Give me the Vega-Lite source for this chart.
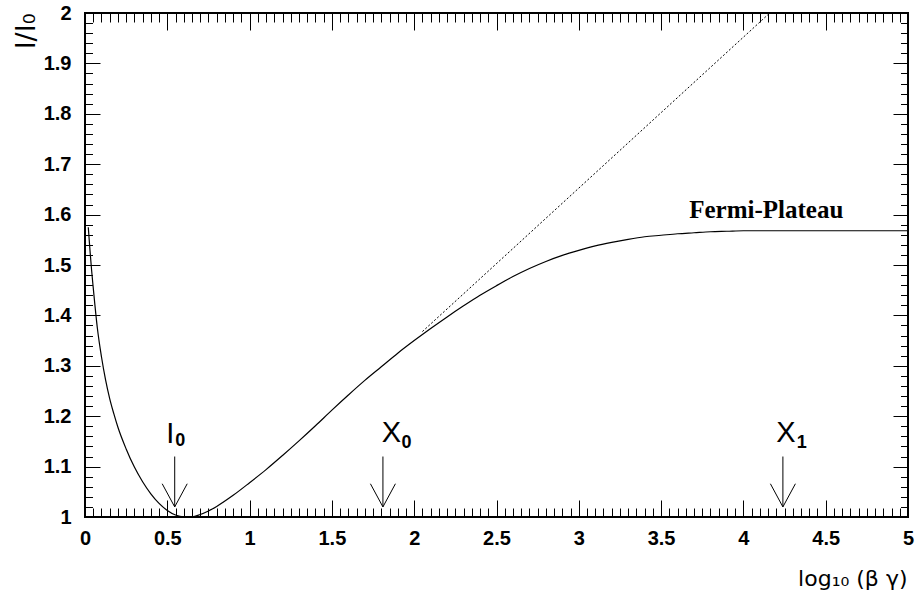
{
  "$schema": "https://vega.github.io/schema/vega-lite/v6.json",
  "width": 823,
  "height": 504,
  "autosize": {"type": "none"},
  "padding": {"left": 85, "top": 13, "right": 8, "bottom": 87},
  "background": "white",
  "config": {
    "view": {"stroke": "#000", "strokeWidth": 2},
    "axis": {"grid": false, "domain": false, "tickColor": "#000", "tickWidth": 1, "labelColor": "#000", "titleColor": "#000"}
  },
  "datasets": {
    "curve": [
      {"x": 0.02, "y": 1.575}, {"x": 0.03, "y": 1.53}, {"x": 0.04, "y": 1.49}, {"x": 0.05, "y": 1.455},
      {"x": 0.075, "y": 1.375}, {"x": 0.1, "y": 1.318}, {"x": 0.125, "y": 1.272}, {"x": 0.15, "y": 1.235},
      {"x": 0.175, "y": 1.205}, {"x": 0.2, "y": 1.178}, {"x": 0.25, "y": 1.135}, {"x": 0.3, "y": 1.099},
      {"x": 0.35, "y": 1.07}, {"x": 0.4, "y": 1.046}, {"x": 0.45, "y": 1.027}, {"x": 0.5, "y": 1.013},
      {"x": 0.55, "y": 1.004}, {"x": 0.6, "y": 1.0005}, {"x": 0.65, "y": 1.0005}, {"x": 0.7, "y": 1.005},
      {"x": 0.75, "y": 1.012}, {"x": 0.8, "y": 1.021}, {"x": 0.9, "y": 1.043}, {"x": 1.0, "y": 1.068},
      {"x": 1.1, "y": 1.094}, {"x": 1.2, "y": 1.122}, {"x": 1.3, "y": 1.151}, {"x": 1.4, "y": 1.181},
      {"x": 1.5, "y": 1.212}, {"x": 1.6, "y": 1.242}, {"x": 1.7, "y": 1.271}, {"x": 1.8, "y": 1.298},
      {"x": 1.9, "y": 1.325}, {"x": 2.0, "y": 1.35}, {"x": 2.1, "y": 1.374}, {"x": 2.2, "y": 1.397},
      {"x": 2.3, "y": 1.419}, {"x": 2.4, "y": 1.44}, {"x": 2.5, "y": 1.459}, {"x": 2.6, "y": 1.477},
      {"x": 2.7, "y": 1.493}, {"x": 2.8, "y": 1.507}, {"x": 2.9, "y": 1.519}, {"x": 3.0, "y": 1.529},
      {"x": 3.1, "y": 1.538}, {"x": 3.2, "y": 1.545}, {"x": 3.3, "y": 1.551}, {"x": 3.4, "y": 1.556},
      {"x": 3.5, "y": 1.559}, {"x": 3.6, "y": 1.562}, {"x": 3.7, "y": 1.564}, {"x": 3.8, "y": 1.566},
      {"x": 3.9, "y": 1.567}, {"x": 4.0, "y": 1.568}, {"x": 4.5, "y": 1.568}, {"x": 5.0, "y": 1.568}
    ],
    "dotted": [
      {"x": 2.05, "y": 1.368}, {"x": 4.16, "y": 2.0}
    ],
    "arrows": [
      {"x": 0.545, "y": 1.12, "x2": 0.545, "y2": 1.02},
      {"x": 0.469, "y": 1.066, "x2": 0.545, "y2": 1.02},
      {"x": 0.621, "y": 1.066, "x2": 0.545, "y2": 1.02},
      {"x": 1.81, "y": 1.12, "x2": 1.81, "y2": 1.02},
      {"x": 1.734, "y": 1.066, "x2": 1.81, "y2": 1.02},
      {"x": 1.886, "y": 1.066, "x2": 1.81, "y2": 1.02},
      {"x": 4.24, "y": 1.12, "x2": 4.24, "y2": 1.02},
      {"x": 4.164, "y": 1.066, "x2": 4.24, "y2": 1.02},
      {"x": 4.316, "y": 1.066, "x2": 4.24, "y2": 1.02}
    ],
    "labels": [
      {"t": "I", "x": 0.518, "y": 1.147, "k": "main"},
      {"t": "0", "x": 0.578, "y": 1.14, "k": "sub"},
      {"t": "X", "x": 1.862, "y": 1.149, "k": "main"},
      {"t": "0", "x": 1.953, "y": 1.1375, "k": "sub"},
      {"t": "X", "x": 4.259, "y": 1.149, "k": "main"},
      {"t": "1", "x": 4.355, "y": 1.1375, "k": "sub"}
    ],
    "notes": [
      {"t": "Fermi-Plateau", "x": 3.671, "y": 1.593}
    ]
  },
  "resolve": {"axis": {"x": "independent", "y": "independent"}},
  "layer": [
    {
      "data": {"name": "curve"},
      "mark": {"type": "line", "color": "#000", "strokeWidth": 1.2, "interpolate": "monotone"},
      "encoding": {
        "x": {
          "field": "x", "type": "quantitative",
          "scale": {"domain": [0, 5], "nice": false, "zero": false},
          "axis": {
            "orient": "bottom", "values": [0, 0.5, 1, 1.5, 2, 2.5, 3, 3.5, 4, 4.5, 5], "format": "~g",
            "tickSize": -17, "labelFont": "Liberation Sans", "labelFontWeight": "bold", "labelFontSize": 20,
            "labelPadding": 28, "labelFlush": false, "labelOverlap": false,
            "title": "log₁₀ (β  γ)", "titleFont": "DejaVu Sans", "titleFontWeight": "normal", "titleFontSize": 22,
            "titleAnchor": "end", "titleAlign": "right", "titleX": 822, "titleY": 68, "titleBaseline": "alphabetic"
          }
        },
        "y": {
          "field": "y", "type": "quantitative",
          "scale": {"domain": [1, 2], "nice": false, "zero": false},
          "axis": {
            "orient": "left", "values": [1, 1.1, 1.2, 1.3, 1.4, 1.5, 1.6, 1.7, 1.8, 1.9, 2], "format": "~g",
            "tickSize": -15, "labelFont": "Liberation Sans", "labelFontWeight": "bold", "labelFontSize": 20,
            "labelPadding": 29, "labelFlush": false, "labelOverlap": false,
            "title": "I/I₀", "titleFont": "DejaVu Sans", "titleFontWeight": "normal", "titleFontSize": 27,
            "titleAngle": -90, "titleAnchor": "end", "titleAlign": "right", "titleX": -51, "titleY": 0, "titleBaseline": "alphabetic"
          }
        }
      }
    },
    {
      "data": {"name": "dotted"},
      "mark": {"type": "line", "color": "#000", "strokeWidth": 1, "strokeDash": [2, 2]},
      "encoding": {
        "x": {
          "field": "x", "type": "quantitative",
          "scale": {"domain": [0, 5], "nice": false, "zero": false},
          "axis": {
            "orient": "bottom", "labels": false, "title": null, "tickSize": -9,
            "values": [0,0.05,0.1,0.15,0.2,0.25,0.3,0.35,0.4,0.45,0.5,0.55,0.6,0.65,0.7,0.75,0.8,0.85,0.9,0.95,1,1.05,1.1,1.15,1.2,1.25,1.3,1.35,1.4,1.45,1.5,1.55,1.6,1.65,1.7,1.75,1.8,1.85,1.9,1.95,2,2.05,2.1,2.15,2.2,2.25,2.3,2.35,2.4,2.45,2.5,2.55,2.6,2.65,2.7,2.75,2.8,2.85,2.9,2.95,3,3.05,3.1,3.15,3.2,3.25,3.3,3.35,3.4,3.45,3.5,3.55,3.6,3.65,3.7,3.75,3.8,3.85,3.9,3.95,4,4.05,4.1,4.15,4.2,4.25,4.3,4.35,4.4,4.45,4.5,4.55,4.6,4.65,4.7,4.75,4.8,4.85,4.9,4.95,5]
          }
        },
        "y": {
          "field": "y", "type": "quantitative",
          "scale": {"domain": [1, 2], "nice": false, "zero": false},
          "axis": {
            "orient": "left", "labels": false, "title": null, "tickSize": -7.5,
            "values": [1,1.02,1.04,1.06,1.08,1.1,1.12,1.14,1.16,1.18,1.2,1.22,1.24,1.26,1.28,1.3,1.32,1.34,1.36,1.38,1.4,1.42,1.44,1.46,1.48,1.5,1.52,1.54,1.56,1.58,1.6,1.62,1.64,1.66,1.68,1.7,1.72,1.74,1.76,1.78,1.8,1.82,1.84,1.86,1.88,1.9,1.92,1.94,1.96,1.98,2]
          }
        }
      }
    },
    {
      "data": {"name": "arrows"},
      "mark": {"type": "rule", "color": "#000", "strokeWidth": 1},
      "encoding": {
        "x": {
          "field": "x", "type": "quantitative",
          "scale": {"domain": [0, 5], "nice": false, "zero": false},
          "axis": {"orient": "top", "labels": false, "title": null, "tickSize": -17, "values": [0, 0.5, 1, 1.5, 2, 2.5, 3, 3.5, 4, 4.5, 5]}
        },
        "x2": {"field": "x2"},
        "y": {
          "field": "y", "type": "quantitative",
          "scale": {"domain": [1, 2], "nice": false, "zero": false},
          "axis": {"orient": "right", "labels": false, "title": null, "tickSize": -15, "values": [1, 1.1, 1.2, 1.3, 1.4, 1.5, 1.6, 1.7, 1.8, 1.9, 2]}
        },
        "y2": {"field": "y2"}
      }
    },
    {
      "data": {"name": "labels"},
      "transform": [{"filter": "datum.k === 'main'"}],
      "mark": {"type": "text", "color": "#000", "font": "Liberation Sans", "fontSize": 29, "align": "center", "baseline": "alphabetic"},
      "encoding": {
        "x": {
          "field": "x", "type": "quantitative",
          "scale": {"domain": [0, 5], "nice": false, "zero": false},
          "axis": {
            "orient": "top", "labels": false, "title": null, "tickSize": -9,
            "values": [0,0.05,0.1,0.15,0.2,0.25,0.3,0.35,0.4,0.45,0.5,0.55,0.6,0.65,0.7,0.75,0.8,0.85,0.9,0.95,1,1.05,1.1,1.15,1.2,1.25,1.3,1.35,1.4,1.45,1.5,1.55,1.6,1.65,1.7,1.75,1.8,1.85,1.9,1.95,2,2.05,2.1,2.15,2.2,2.25,2.3,2.35,2.4,2.45,2.5,2.55,2.6,2.65,2.7,2.75,2.8,2.85,2.9,2.95,3,3.05,3.1,3.15,3.2,3.25,3.3,3.35,3.4,3.45,3.5,3.55,3.6,3.65,3.7,3.75,3.8,3.85,3.9,3.95,4,4.05,4.1,4.15,4.2,4.25,4.3,4.35,4.4,4.45,4.5,4.55,4.6,4.65,4.7,4.75,4.8,4.85,4.9,4.95,5]
          }
        },
        "y": {
          "field": "y", "type": "quantitative",
          "scale": {"domain": [1, 2], "nice": false, "zero": false},
          "axis": {
            "orient": "right", "labels": false, "title": null, "tickSize": -7.5,
            "values": [1,1.02,1.04,1.06,1.08,1.1,1.12,1.14,1.16,1.18,1.2,1.22,1.24,1.26,1.28,1.3,1.32,1.34,1.36,1.38,1.4,1.42,1.44,1.46,1.48,1.5,1.52,1.54,1.56,1.58,1.6,1.62,1.64,1.66,1.68,1.7,1.72,1.74,1.76,1.78,1.8,1.82,1.84,1.86,1.88,1.9,1.92,1.94,1.96,1.98,2]
          }
        },
        "text": {"field": "t"}
      }
    },
    {
      "data": {"name": "labels"},
      "transform": [{"filter": "datum.k === 'sub'"}],
      "mark": {"type": "text", "color": "#000", "font": "Liberation Sans", "fontWeight": "bold", "fontSize": 18, "align": "center", "baseline": "alphabetic"},
      "encoding": {
        "x": {"field": "x", "type": "quantitative", "scale": {"domain": [0, 5], "nice": false, "zero": false}, "axis": null},
        "y": {"field": "y", "type": "quantitative", "scale": {"domain": [1, 2], "nice": false, "zero": false}, "axis": null},
        "text": {"field": "t"}
      }
    },
    {
      "data": {"name": "notes"},
      "mark": {"type": "text", "color": "#000", "font": "Liberation Serif", "fontWeight": "bold", "fontSize": 25, "align": "left", "baseline": "alphabetic"},
      "encoding": {
        "x": {"field": "x", "type": "quantitative", "scale": {"domain": [0, 5], "nice": false, "zero": false}, "axis": null},
        "y": {"field": "y", "type": "quantitative", "scale": {"domain": [1, 2], "nice": false, "zero": false}, "axis": null},
        "text": {"field": "t"}
      }
    }
  ]
}
